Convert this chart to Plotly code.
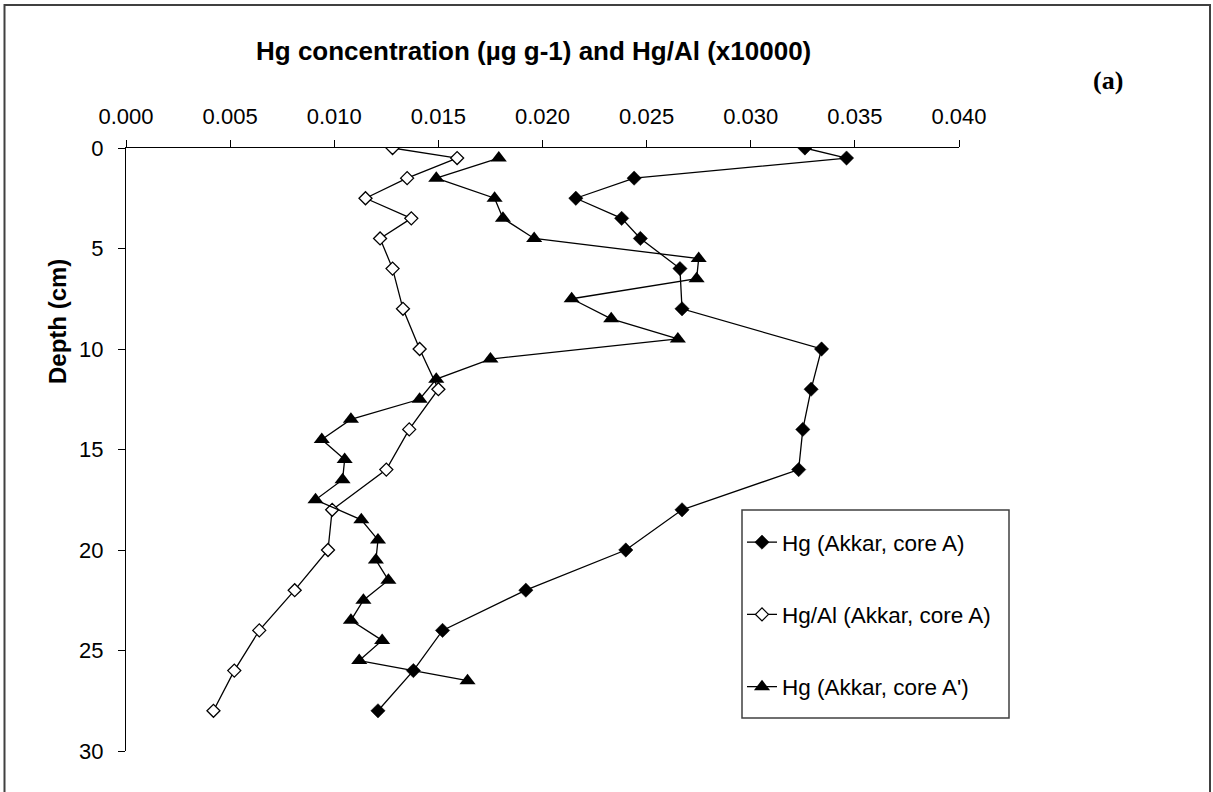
import plotly.graph_objects as go

# Depths (cm)
depth_core_a = [0, 0.5, 1.5, 2.5, 3.5, 4.5, 6, 8, 10, 12, 14, 16, 18, 20, 22, 24, 26, 28]
depth_core_a2 = [0.5, 1.5, 2.5, 3.5, 4.5, 5.5, 6.5, 7.5, 8.5, 9.5, 10.5, 11.5, 12.5, 13.5,
                 14.5, 15.5, 16.5, 17.5, 18.5, 19.5, 20.5, 21.5, 22.5, 23.5, 24.5, 25.5, 26.5]

# Hg (Akkar, core A) µg/g
hg_core_a = [0.0326, 0.0346, 0.0244, 0.0216, 0.0238, 0.0247, 0.0266, 0.0267, 0.0334,
             0.0329, 0.0325, 0.0323, 0.0267, 0.0240, 0.0192, 0.0152, 0.0138, 0.0121]
# Hg/Al (Akkar, core A) x10000
hgal_core_a = [0.0128, 0.0159, 0.0135, 0.0115, 0.0137, 0.0122, 0.0128, 0.0133, 0.0141,
               0.0150, 0.0136, 0.0125, 0.0099, 0.0097, 0.0081, 0.0064, 0.0052, 0.0042]
# Hg (Akkar, core A')
hg_core_a2 = [0.0179, 0.0149, 0.0177, 0.0181, 0.0196, 0.0275, 0.0274, 0.0214, 0.0233,
              0.0265, 0.0175, 0.0149, 0.0141, 0.0108, 0.0094, 0.0105, 0.0104, 0.0091,
              0.0113, 0.0121, 0.0120, 0.0126, 0.0114, 0.0108, 0.0123, 0.0112, 0.0164]

x_ticks = [0.000, 0.005, 0.010, 0.015, 0.020, 0.025, 0.030, 0.035, 0.040]
y_ticks = [0, 5, 10, 15, 20, 25, 30]

FONT = "Arial, Liberation Sans, sans-serif"

fig = go.Figure()
fig.add_trace(go.Scatter(
    x=hg_core_a, y=depth_core_a, mode="lines+markers", name="Hg (Akkar, core A)",
    legendgroup="g1",
    line=dict(color="black", width=1.3),
    marker=dict(symbol="diamond", size=11, color="black", line=dict(color="black", width=0.5)),
))
fig.add_trace(go.Scatter(
    x=hgal_core_a, y=depth_core_a, mode="lines+markers", name="Hg/Al (Akkar, core A)",
    legendgroup="g2",
    line=dict(color="black", width=1.3),
    marker=dict(symbol="diamond", size=10, color="white", line=dict(color="black", width=1.3)),
))
fig.add_trace(go.Scatter(
    x=hg_core_a2, y=depth_core_a2, mode="lines+markers", name="Hg (Akkar, core A')",
    legendgroup="g3",
    line=dict(color="black", width=1.3),
    marker=dict(symbol="triangle-up", size=14, color="black"),
))

L, R, T, B = 126, 254, 148, 41
W, H = 1213, 792
pw, ph = W - L - R, H - T - B


def px(xp):
    return (xp - L) / pw


def py(yp):
    return 1 - (yp - T) / ph


fig.update_layout(
    width=W, height=H,
    margin=dict(l=L, r=R, t=T, b=B, pad=0),
    paper_bgcolor="white", plot_bgcolor="white",
    font=dict(family=FONT, size=22, color="black"),
    showlegend=True,
    legend=dict(
        x=px(742), y=py(521), xanchor="left", yanchor="top",
        bgcolor="rgba(0,0,0,0)", borderwidth=0,
        font=dict(family=FONT, size=22.5, color="black"),
        traceorder="grouped", tracegroupgap=40,
        itemwidth=30,
    ),
    xaxis=dict(
        side="top", range=[0, 0.04], tickvals=x_ticks, tickformat=".3f",
        showline=True, linecolor="black", linewidth=1.3,
        ticks="outside", ticklen=7, tickwidth=1.3, tickcolor="black",
        showgrid=False, zeroline=False,
        tickfont=dict(family=FONT, size=22, color="black"),
        ticklabelstandoff=7,
    ),
    yaxis=dict(
        range=[30, 0], tickvals=y_ticks,
        showline=True, linecolor="black", linewidth=1.3,
        ticks="outside", ticklen=7, tickwidth=1.3, tickcolor="black",
        showgrid=False, zeroline=False,
        tickfont=dict(family=FONT, size=22, color="black"),
        ticklabelstandoff=10,
    ),
    annotations=[
        dict(text="<b>Hg concentration (µg g-1) and Hg/Al (x10000)</b>",
             x=px(533), y=py(51), xref="paper", yref="paper",
             xanchor="center", yanchor="middle", showarrow=False,
             font=dict(family=FONT, size=26, color="black")),
        dict(text="<b>(a)</b>",
             x=px(1108), y=py(80), xref="paper", yref="paper",
             xanchor="center", yanchor="middle", showarrow=False,
             font=dict(family="Times New Roman, Liberation Serif, serif", size=26, color="black")),
        dict(text="<b>Depth (cm)</b>",
             x=px(57), y=py(322), xref="paper", yref="paper",
             xanchor="center", yanchor="middle", showarrow=False, textangle=-90,
             font=dict(family=FONT, size=24, color="black")),
    ],
    shapes=[
        # legend frame
        dict(type="rect", xref="paper", yref="paper",
             x0=px(742), x1=px(1009), y0=py(510), y1=py(718),
             line=dict(color="#404040", width=1.5), fillcolor="white", layer="above"),
        # outer chart frame
        dict(type="rect", xref="paper", yref="paper",
             x0=px(4.5), x1=px(1210), y0=py(5), y1=py(810),
             line=dict(color="#404040", width=2), fillcolor="rgba(0,0,0,0)", layer="above"),
    ],
)

fig.write_html("out.html", config={"displayModeBar": False},
               post_script="document.body.style.margin='0px';")
